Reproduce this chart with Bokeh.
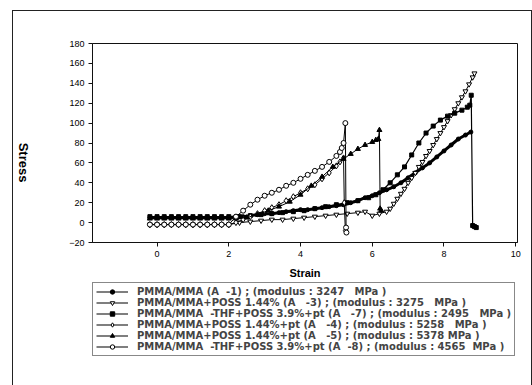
from bokeh.plotting import figure
from bokeh.models import Range1d, FixedTicker, Legend, LegendItem
from bokeh.core.properties import value
from bokeh.layouts import column, row
from bokeh.embed import file_html
from bokeh.resources import INLINE
import math

flat_x = [-0.2, 0.0, 0.2, 0.4, 0.6, 0.8, 1.0, 1.2, 1.4, 1.6, 1.8, 2.0]

# A-1 (filled circle)
s1 = flat_x + [2.2, 2.4, 2.6, 2.8, 3.0, 3.2, 3.4, 3.6, 3.8, 4.0, 4.2, 4.4, 4.6, 4.8, 5.0, 5.2,
               5.4, 5.6, 5.8, 6.0, 6.2, 6.4, 6.6, 6.8, 7.0, 7.2, 7.4, 7.6, 7.8, 8.0, 8.2, 8.4, 8.6, 8.75]
y1 = [5] * 12 + [6, 6, 7, 8, 9, 9, 10, 11, 12, 13, 13, 14, 15, 16, 17, 18,
                 20, 22, 25, 27, 30, 33, 36, 40, 45, 50, 55, 60, 66, 72, 78, 84, 88, 91]

# A-3 (open inverted triangle)
s3 = flat_x + [2.3, 2.6, 2.9, 3.2, 3.5, 3.8, 4.1, 4.4, 4.7, 5.0,
               5.3, 5.6, 5.8, 6.0, 6.2, 6.4, 6.5, 6.6, 6.7, 6.8,
               6.9, 7.0, 7.1, 7.2, 7.3, 7.4, 7.5, 7.6, 7.7, 7.8,
               7.9, 8.0, 8.1, 8.2, 8.3, 8.4, 8.5, 8.6, 8.7, 8.8, 8.85]
y3 = [-2] * 12 + [0, 1, 2, 3, 3, 4, 5, 6, 7, 8,
                  9, 10, 11, 7, 9, 11, 14, 19, 24, 29,
                  34, 40, 45, 50, 56, 61, 67, 72, 78, 84,
                  90, 96, 102, 108, 114, 120, 126, 132, 139, 146, 150]

# A-7 (filled square)
s7 = flat_x + [2.3, 2.6, 2.9, 3.2, 3.5, 3.8, 4.1, 4.4, 4.7, 5.0,
               5.3, 5.6, 5.9, 6.1, 6.3, 6.5, 6.7, 6.9, 7.1, 7.3,
               7.5, 7.7, 7.9, 8.1, 8.3, 8.5, 8.65, 8.72, 8.76, 8.8, 8.85, 8.9]
y7 = [6] * 12 + [6, 7, 8, 9, 10, 11, 12, 14, 16, 18,
                 20, 22, 25, 28, 33, 40, 48, 56, 68, 80,
                 90, 97, 103, 107, 110, 113, 116, 118, 128, -3, -4, -5]

# A-4 (open diamond)
s4 = flat_x + [2.2, 2.4, 2.6, 2.8, 3.0, 3.2, 3.4, 3.6, 3.8, 4.0,
               4.2, 4.4, 4.6, 4.8, 5.0, 5.1, 5.2, 5.22, 5.25]
y4 = [-2] * 12 + [0, 3, 6, 9, 12, 15, 18, 22, 26, 30,
                  34, 38, 44, 50, 57, 61, 65, 20, -8]

# A-5 (filled triangle)
s5 = flat_x + [2.2, 2.5, 2.8, 3.1, 3.4, 3.7, 4.0, 4.3, 4.6, 4.9,
               5.2, 5.4, 5.6, 5.8, 6.0, 6.1, 6.17, 6.2, 6.22, 6.25]
y5 = [4] * 12 + [4, 5, 8, 12, 16, 21, 28, 37, 46, 56,
                 64, 69, 74, 78, 81, 83, 84, 93, 14, 12]

# A-8 (open circle)
s8 = flat_x + [2.2, 2.4, 2.6, 2.8, 3.0, 3.2, 3.4, 3.6, 3.8, 4.0,
               4.2, 4.4, 4.6, 4.8, 5.0, 5.1, 5.15, 5.2, 5.25, 5.27, 5.28]
y8 = [-2] * 12 + [6, 12, 18, 23, 27, 30, 33, 37, 40, 44,
                  48, 52, 56, 61, 67, 71, 75, 80, 100, -5, -10]

NB = "\u00a0"
labels = [
    "PMMA/MMA (A  -1) ; (modulus : 3247   MPa )",
    "PMMA/MMA+POSS 1.44% (A   -3) ; (modulus : 3275   MPa )",
    "PMMA/MMA  -THF+POSS 3.9%+pt (A   -7) ; (modulus : 2495   MPa )",
    "PMMA/MMA+POSS 1.44%+pt (A   -4) ; (modulus : 5258   MPa )",
    "PMMA/MMA+POSS 1.44%+pt (A   -5) ; (modulus : 5378 MPa )",
    "PMMA/MMA  -THF+POSS 3.9%+pt (A  -8) ; (modulus : 4565  MPa )",
]
x_ticks = [0, 2, 4, 6, 8, 10]
y_ticks = [-20, 0, 20, 40, 60, 80, 100, 120, 140, 160, 180]
y_title = "Stress"
x_title = "Strain"

# narrow strip on the left carrying the rotated y title
lf = figure(width=30, height=375, x_range=Range1d(0, 30), y_range=Range1d(0, 375),
            output_backend="svg", toolbar_location=None, x_axis_type=None, y_axis_type=None,
            min_border=0, min_border_left=0, min_border_right=0, min_border_top=0, min_border_bottom=0)
lf.grid.visible = False
lf.outline_line_color = None
lf.text(x=[9.5], y=[224], text=[y_title], angle=-math.pi / 2, text_align="center",
        text_baseline="middle", text_font=value("Liberation Sans"), text_font_style="bold",
        text_font_size="13px", text_color="black")

p = figure(width=488, height=271, x_range=Range1d(-1.8, 10.05), y_range=Range1d(-20, 180),
           output_backend="svg", toolbar_location=None,
           min_border_left=44, min_border_right=14, min_border_top=32, min_border_bottom=40)
p.grid.visible = False
p.outline_line_color = "#111"
p.background_fill_color = "white"
p.border_fill_color = "white"

series = [
    (s1, y1, "circle", "black", 4, 3),
    (s3, y3, "inverted_triangle", "white", 5, 1),
    (s7, y7, "square", "black", 4, 1.2),
    (s4, y4, "diamond", "white", 6, 1),
    (s5, y5, "triangle", "black", 5, 1),
    (s8, y8, "circle", "white", 5, 1),
]

# legend-only figure below the chart
q = figure(width=488, height=104, x_range=Range1d(-1.8, 10.05), y_range=Range1d(1000, 1001),
           output_backend="svg", toolbar_location=None, x_axis_type=None, y_axis_type=None,
           min_border=0, min_border_left=49, min_border_right=0, min_border_top=0, min_border_bottom=0)
q.grid.visible = False
q.outline_line_color = None
q.background_fill_color = "white"
q.border_fill_color = "white"

items = []
for (xs, ys, mk, fc, sz, lw), lab in zip(series, labels):
    p.line(xs, ys, line_color="black", line_width=lw)
    p.scatter(xs, ys, marker=mk, size=sz, fill_color=fc, line_color="black", line_width=1)
    r1 = q.line(xs, ys, line_color="black", line_width=1.2)
    r2 = q.scatter(xs, ys, marker=mk, size=sz, fill_color=fc, line_color="black", line_width=1)
    items.append(LegendItem(label=lab.replace(" ", NB), renderers=[r1, r2]))

for ax in (p.xaxis[0], p.yaxis[0]):
    ax.axis_line_color = "#111"
    ax.major_tick_line_color = "#111"
    ax.major_tick_out = 4
    ax.major_tick_in = 0
    ax.minor_tick_line_color = None
    ax.major_label_text_font = "Liberation Sans"
    ax.major_label_text_font_size = "9px"
    ax.major_label_text_color = "black"
    ax.major_label_standoff = 4

p.xaxis.ticker = FixedTicker(ticks=x_ticks)
p.yaxis.ticker = FixedTicker(ticks=y_ticks)
p.xaxis.axis_label = x_title
p.xaxis.axis_label_text_font = "Liberation Sans"
p.xaxis.axis_label_text_font_style = "bold"
p.xaxis.axis_label_text_font_size = "11px"
p.xaxis.axis_label_text_color = "black"
p.xaxis.axis_label_standoff = 7

legend = Legend(items=items, location="top_left", orientation="vertical",
                label_text_font="DejaVu Sans", label_text_font_style="bold",
                label_text_font_size="10px", label_height=11, glyph_height=11, glyph_width=32,
                spacing=0, padding=3, margin=0, label_standoff=9,
                border_line_color="#111", background_fill_alpha=1)
q.add_layout(legend)

layout = row(lf, column(p, q, spacing=0), spacing=0, margin=(10, 0, 0, 12),
             styles={"border-left": "1px solid #222", "border-top": "1px solid #222",
                     "border-right": "1px solid #222"})

open("out.html", "w").write(file_html(layout, INLINE))
